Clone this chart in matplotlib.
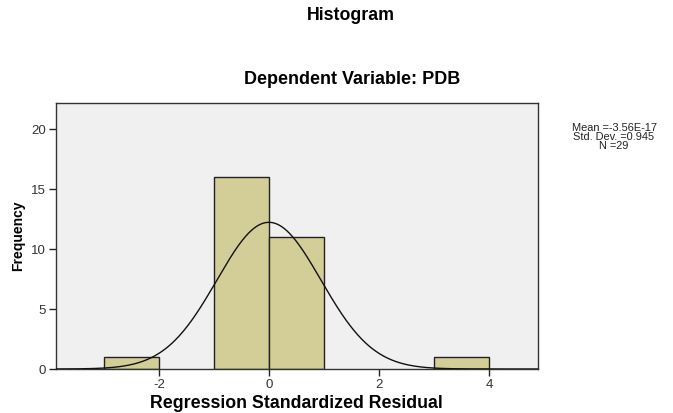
import numpy as np
import matplotlib
matplotlib.use("Agg")
import matplotlib.pyplot as plt

plt.rcParams['font.family'] = ['Liberation Sans', 'DejaVu Sans']
plt.rcParams['axes.unicode_minus'] = False

bin_left = [-3, -1, 0, 3]
bin_counts = [1, 16, 11, 1]
bin_width = 1.0
mean_val = -3.56e-17
sd_val = 0.945
n_val = 29
x_ticks = [-2, 0, 2, 4]
y_ticks = [0, 5, 10, 15, 20]

W, H = 673, 413
fig = plt.figure(figsize=(W/100, H/100), dpi=100)
ax = fig.add_axes([56/W, 1-369/H, (538-56)/W, (369-103)/H])
ax.set_facecolor('#F0F0F0')

ax.bar(bin_left, bin_counts, width=bin_width, align='edge',
       color='#D3CE98', edgecolor='#222222', linewidth=1.0, zorder=2)

xs = np.linspace(-3.87, 4.89, 600)
ys = n_val * bin_width / (sd_val * np.sqrt(2*np.pi)) * np.exp(-0.5*((xs-mean_val)/sd_val)**2)
ax.plot(xs, ys, color='#111111', linewidth=1.0, zorder=3)

ax.set_xlim(-3.87, 4.89)
ax.set_ylim(0, 22.2)
ax.set_xticks(x_ticks)
ax.set_yticks(y_ticks)
ax.tick_params(axis='both', direction='out', length=5, width=1, color='#222222',
               labelsize=9.5, labelcolor='#333333', pad=2)
for s in ax.spines.values():
    s.set_color('#333333')
    s.set_linewidth(1.0)

fig.text(296/W, 1-403/H, 'Regression Standardized Residual', ha='center', va='center',
         fontsize=12.8, fontweight='bold')
fig.text(18/W, 1-236/H, 'Frequency', ha='center', va='center', rotation=90,
         fontsize=10, fontweight='bold')

fig.text(351/W, 1-16/H, 'Histogram', ha='center', va='center', fontsize=12.8, fontweight='bold')
fig.text(352/W, 1-80/H, 'Dependent Variable: PDB', ha='center', va='center', fontsize=13, fontweight='bold')
fig.text(614/W, 1-123/H, 'Mean =-3.56E-17\nStd. Dev. =0.945\nN =29', ha='center', va='top',
         fontsize=7.9, linespacing=0.85, color='#222222')

fig.savefig('out.png', dpi=100)
